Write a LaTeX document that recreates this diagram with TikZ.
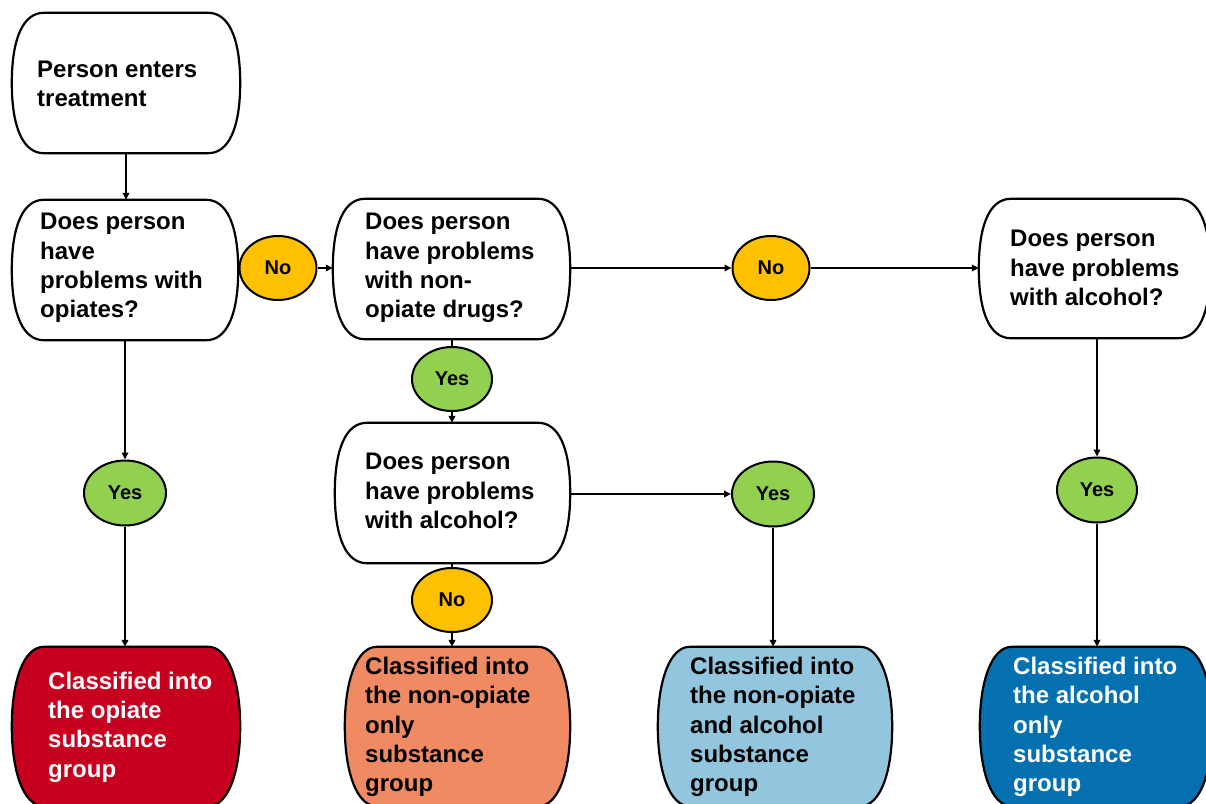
\documentclass[tikz,border=0pt]{standalone}
\usepackage{fontspec}
\setmainfont{Liberation Sans}
\usetikzlibrary{arrows.meta,calc,shapes.geometric}
\definecolor{cred}{HTML}{C8001F}
\definecolor{corange}{HTML}{EF8A62}
\definecolor{clblue}{HTML}{92C5DE}
\definecolor{cdblue}{HTML}{0570B0}
\definecolor{cyellow}{HTML}{FFC000}
\definecolor{cgreen}{HTML}{92D050}
\newcommand\boxoutline[2]{%
  \path[boxline,fill=#2]
    ($(#1.north west)+(32,0)$) -- ($(#1.north east)+(-32,0)$)
    .. controls ($(#1.north east)+(-12,0)$) and ($(#1.east)+(0,-46)$) .. (#1.east)
    .. controls ($(#1.east)+(0,46)$) and ($(#1.south east)+(-12,0)$) .. ($(#1.south east)+(-32,0)$)
    -- ($(#1.south west)+(32,0)$)
    .. controls ($(#1.south west)+(12,0)$) and ($(#1.west)+(0,46)$) .. (#1.west)
    .. controls ($(#1.west)+(0,-46)$) and ($(#1.north west)+(12,0)$) .. cycle;}
\tikzset{
  boxnode/.style={rectangle,draw=none,inner sep=0pt},
  boxline/.style={draw=black,line width=2.2pt,line join=round},
  txt/.style={anchor=west,align=left,inner sep=0pt,font=\fontsize{24}{29.3}\selectfont\bfseries},
  wtxt/.style={txt,text=white},
  oval/.style={ellipse,draw=black,line width=2pt,inner sep=0pt,font=\fontsize{20}{22}\selectfont\bfseries},
  yesoval/.style={oval,fill=cgreen,minimum width=82pt,minimum height=65pt},
  nooval/.style={oval,fill=cyellow,minimum width=77pt,minimum height=64pt},
  conn/.style={draw=black,line width=1.8pt},
  arr/.style={conn,-{Triangle[length=7pt,width=6.5pt]}}
}
\begin{document}
\begin{tikzpicture}[x=1pt,y=-1pt]
\useasboundingbox (0,0) rectangle (1206,803);
\clip (0,0) rectangle (1206,803);
% box nodes (geometry)
\node[boxnode,minimum width=228pt,minimum height=140pt] (b1) at (126,83) {};
\node[boxnode,minimum width=226pt,minimum height=140pt] (b2) at (125,270) {};
\node[boxnode,minimum width=237pt,minimum height=140pt] (b3) at (451.5,269) {};
\node[boxnode,minimum width=231pt,minimum height=139pt] (b4) at (1094.5,268.5) {};
\node[boxnode,minimum width=235pt,minimum height=140pt] (b5) at (452.5,493) {};
\node[boxnode,minimum width=228pt,minimum height=159pt] (gred) at (126,726.5) {};
\node[boxnode,minimum width=225pt,minimum height=159pt] (gor) at (457.5,726.5) {};
\node[boxnode,minimum width=234pt,minimum height=159pt] (glb) at (775,726.5) {};
\node[boxnode,minimum width=232pt,minimum height=159pt] (gdb) at (1096,726.5) {};
% outlines
\boxoutline{b1}{white}
\boxoutline{b2}{white}
\boxoutline{b3}{white}
\boxoutline{b4}{white}
\boxoutline{b5}{white}
\boxoutline{gred}{cred}
\boxoutline{gor}{corange}
\boxoutline{glb}{clblue}
\boxoutline{gdb}{cdblue}
% texts
\node[txt] (t1) at (37,84) {Person enters\\treatment};
\node[txt] (t2) at (40,268) {Does person\\have\\problems with\\opiates?};
\node[txt] (t3) at (365,268) {Does person\\have problems\\with non-\\opiate drugs?};
\node[txt] (t4) at (1010,268) {Does person\\have problems\\with alcohol?};
\node[txt] (t5) at (365,491) {Does person\\have problems\\with alcohol?};
\node[wtxt] (tred) at (48,727) {Classified into\\the opiate\\substance\\group};
\node[txt] (tor) at (365,727) {Classified into\\the non-opiate\\only\\substance\\group};
\node[txt] (tlb) at (690,727) {Classified into\\the non-opiate\\and alcohol\\substance\\group};
\node[wtxt] (tdb) at (1013,727) {Classified into\\the alcohol\\only\\substance\\group};
% decision ovals
\node[nooval] (no1) at (278,268) {No};
\node[nooval] (no2) at (771,268) {No};
\node[yesoval,minimum width=80pt,minimum height=64pt] (yes2) at (452,379) {Yes};
\node[nooval,minimum width=80pt] (no3) at (452,600) {No};
\node[yesoval] (yes1) at (125,493) {Yes};
\node[yesoval] (yes3) at (773,494) {Yes};
\node[yesoval,minimum width=80pt] (yes4) at (1097,490) {Yes};
% connectors
\draw[arr] (b1.south) -- (b1.south |- b2.north);
\draw[arr] (yes1.north |- b2.south) -- (yes1.north);
\draw[arr] (yes1.south) -- (yes1.south |- gred.north);
\draw[arr] (no1.east) -- (no1.east -| b3.west);
\draw[arr] (b3.east |- no2.west) -- (no2.west);
\draw[arr] (no2.east) -- (no2.east -| b4.west);
\draw[conn] (yes2.north |- b3.south) -- (yes2.north);
\draw[arr] (yes2.south) -- (yes2.south |- b5.north);
\draw[conn] (no3.north |- b5.south) -- (no3.north);
\draw[arr] (no3.south) -- (no3.south |- gor.north);
\draw[arr] (b5.east |- yes3.west) -- (yes3.west);
\draw[arr] (yes3.south) -- (yes3.south |- glb.north);
\draw[arr] (yes4.north |- b4.south) -- (yes4.north);
\draw[arr] (yes4.south) -- (yes4.south |- gdb.north);
\end{tikzpicture}
\end{document}
